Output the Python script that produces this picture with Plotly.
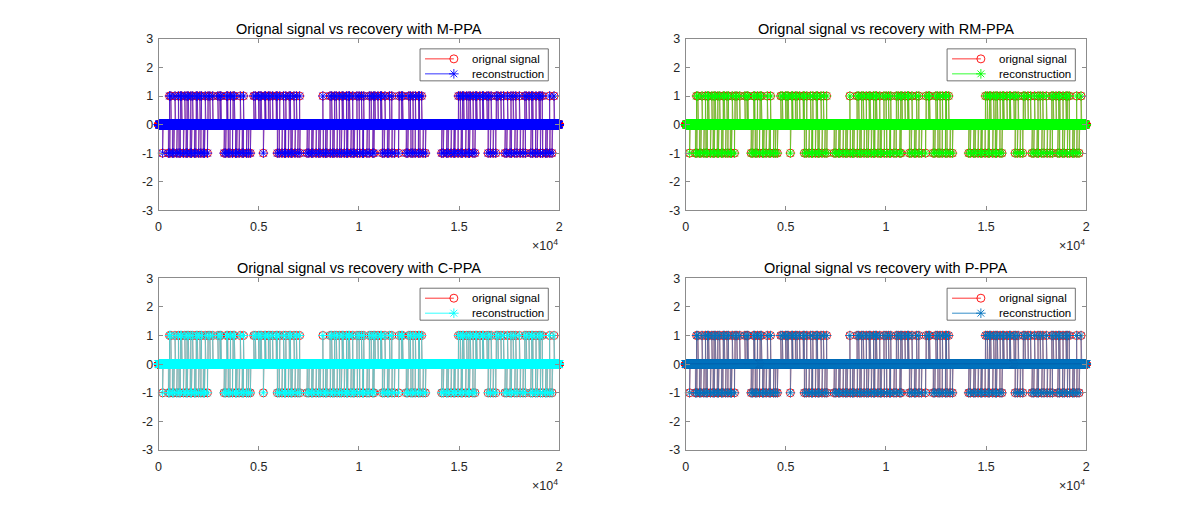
import numpy as np
import plotly.graph_objects as go

n_samples = 20000
W, H = 1204, 506

# sample indices of the +1 / -1 entries of the original sparse signal
pos_idx = [545, 610, 760, 820, 990, 1090, 1150, 1310, 1420, 1480, 1610, 1700, 1880, 1930,
           2060, 2140, 2290, 2330, 2470, 2560, 2700,
           2960, 3060, 3110, 3270, 3400, 3450, 3590, 3720, 3780, 4080, 4240,
           4750, 4830, 4990, 5060, 5120, 5300, 5340, 5480, 5560, 5690, 5870, 5920, 6050, 6160,
           6240, 6350, 6520, 6580, 6760, 6880, 7040,
           8200, 8560, 8640, 8790, 8870, 9020, 9160, 9210, 9380, 9470, 9530, 9690, 9760,
           9900, 10010, 10130, 10240,
           10520, 10610, 10740, 10800, 10950, 11080, 11130, 11300, 11420, 11530, 11640,
           12010, 12120, 12180, 12360, 12490, 12570, 12700, 12820, 12980, 13020, 13130,
           14970, 15060, 15170, 15230, 15380, 15490, 15560, 15700, 15830, 15880, 16040,
           16170, 16210, 16390, 16480, 16600, 16700, 16860, 16940, 17090, 17220, 17290, 17420,
           17590, 17700, 17830, 18010,
           18280, 18350, 18490, 18620, 18680, 18840, 18990, 19050, 19150,
           19520, 19740]
neg_idx = [200,
           490, 560, 690, 760, 910, 1020, 1080, 1240, 1370, 1430, 1580, 1640, 1790, 1860,
           2000, 2110, 2230, 2290, 2440,
           3270, 3350, 3480, 3560, 3690, 3840, 3900, 4020, 4170, 4230, 4390, 4480, 4580,
           5230,
           5930, 6020, 6160, 6290, 6340, 6480, 6610, 6660, 6810, 6950, 7050,
           7410, 7500, 7640, 7700, 7860, 7990, 8060, 8220, 8330, 8400, 8570, 8690, 8760,
           8910, 9040, 9120, 9270, 9390, 9440, 9600, 9710, 9760, 9920,
           10040, 10180, 10230, 10400, 10510, 10690, 10750,
           11170, 11260, 11420, 11490, 11650, 11770, 11980,
           12360, 12440, 12600, 12690, 12810, 12970, 13050, 13200, 13320,
           14130, 14210, 14380, 14450, 14600, 14740, 14790, 14950, 15100, 15160, 15330,
           15460, 15520, 15690, 15790,
           16450, 16560, 16700, 16830,
           17290, 17380, 17540, 17610, 17780, 17890, 18050, 18190, 18310,
           18580, 18670, 18820, 18900, 19060, 19170, 19320, 19390, 19530, 19640]

method_names = ["M-PPA", "RM-PPA", "C-PPA", "P-PPA"]
recon_colors = ["#0000ff", "#00ff00", "#00ffff", "#0072bd"]
orig_color = "#ff0000"

x_tick_vals = [0, 5000, 10000, 15000, 20000]
x_tick_text = ["0", "0.5", "1", "1.5", "2"]
y_tick_vals = [-3, -2, -1, 0, 1, 2, 3]
y_tick_text = ["-3", "-2", "-1", "0", "1", "2", "3"]

# build the signals
k = np.arange(1, n_samples + 1)
orig = np.zeros(n_samples)
orig[np.array(pos_idx) - 1] = 1
orig[np.array(neg_idx) - 1] = -1
recon = orig.copy()

# the screenshot comes out a bit squeezed vertically (about 0.973, offset 6px),
# so positions are given as wanted in the picture and mapped back to the page
SQ_A, SQ_B = 0.973, 6.1


def page_y(y_pic):
    return (y_pic - SQ_B) / SQ_A


# panel boxes in picture pixels (MATLAB subplot(2,2,i) layout)
panel_x = [[156.5, 559.5], [686.6, 1089.6], [156.5, 559.5], [686.6, 1089.6]]
panel_y = [[38, 209.5], [38, 209.5], [277.5, 449.5], [277.5, 449.5]]

font_family = "Liberation Sans, Arial, Helvetica, sans-serif"
circle_marker = dict(symbol="circle-open", size=8, color=orig_color, line=dict(width=0.9))

fig = go.Figure()
annotations = []
layout = {}

for i, (name, col) in enumerate(zip(method_names, recon_colors)):
    ax = "" if i == 0 else str(i + 1)
    star_marker = dict(symbol="asterisk-open", size=8, color=col, line=dict(width=0.9, color=col))
    fig.add_trace(go.Scatter(
        x=k, y=orig, mode="lines+markers", name="orignal signal",
        xaxis="x" + ax, yaxis="y" + ax, showlegend=False, cliponaxis=False,
        line=dict(color=orig_color, width=0.4), marker=circle_marker,
    ))
    fig.add_trace(go.Scatter(
        x=k, y=recon, mode="lines+markers", name="reconstruction",
        xaxis="x" + ax, yaxis="y" + ax, showlegend=False, cliponaxis=False,
        line=dict(color=col, width=0.4), marker=star_marker,
    ))

    px_l, px_r = panel_x[i]
    px_t, px_b = panel_y[i]
    x_dom = [px_l / W, px_r / W]
    y_dom = [1 - page_y(px_b) / H, 1 - page_y(px_t) / H]

    axis_common = dict(
        showgrid=False, zeroline=False, showline=True, linecolor="#8c8c8c", linewidth=1,
        mirror="ticks", ticks="inside", ticklen=4, tickcolor="#8c8c8c",
        tickfont=dict(size=12.5, color="#262626", family=font_family),
    )
    layout["xaxis" + ax] = dict(
        axis_common, domain=x_dom, range=[0, n_samples],
        tickvals=x_tick_vals, ticktext=x_tick_text, anchor="y" + ax,
        ticklabelstandoff=5,
    )
    layout["yaxis" + ax] = dict(
        axis_common, domain=y_dom, range=[-3, 3],
        tickvals=y_tick_vals, ticktext=y_tick_text, anchor="x" + ax,
        ticklabelstandoff=2,
    )

    annotations.append(dict(
        text="Orignal signal vs recovery with " + name, xref="x5", yref="y5",
        x=(px_l + px_r) / 2, y=px_t - 10, xanchor="center", yanchor="middle",
        showarrow=False, font=dict(size=14.5, color="#000000", family=font_family),
    ))
    annotations.append(dict(
        text="×10<sup>4</sup>", xref="x5", yref="y5",
        x=px_r + 1, y=px_b + 35, xanchor="right", yanchor="middle",
        showarrow=False, font=dict(size=12.5, color="#262626", family=font_family),
    ))

    # legend box, drawn like the MATLAB one
    lg_r = px_r - 11
    lg_l = lg_r - 129
    lg_t = px_t + 10
    lg_b = lg_t + 32
    fig.add_trace(go.Scatter(
        x=[lg_l, lg_r, lg_r, lg_l, lg_l], y=[lg_t, lg_t, lg_b, lg_b, lg_t],
        xaxis="x5", yaxis="y5", mode="lines", fill="toself", fillcolor="white",
        line=dict(color="#4d4d4d", width=0.8), showlegend=False, hoverinfo="skip",
    ))
    rows = [(lg_t + 10, orig_color, circle_marker, "orignal signal"),
            (lg_t + 25, col, star_marker, "reconstruction")]
    for ry, rc, rm, rtext in rows:
        fig.add_trace(go.Scatter(
            x=[lg_l + 5, lg_l + 34], y=[ry, ry], xaxis="x5", yaxis="y5",
            mode="lines", line=dict(color=rc, width=0.8), showlegend=False, hoverinfo="skip",
        ))
        fig.add_trace(go.Scatter(
            x=[lg_l + 34], y=[ry], xaxis="x5", yaxis="y5",
            mode="markers", marker=rm, showlegend=False, hoverinfo="skip",
        ))
        annotations.append(dict(
            text=rtext, xref="x5", yref="y5", x=lg_l + 50, y=ry,
            xanchor="left", yanchor="middle", showarrow=False,
            font=dict(size=11.5, color="#000000", family=font_family),
        ))

# full-figure axis in picture pixels for the legend boxes and labels
layout["xaxis5"] = dict(domain=[0, 1], range=[0, W], visible=False, fixedrange=True, anchor="y5")
layout["yaxis5"] = dict(domain=[0, 1], range=[SQ_B + SQ_A * H, SQ_B],
                        visible=False, fixedrange=True, anchor="x5")

fig.update_layout(
    width=W, height=H,
    margin=dict(l=0, r=0, t=0, b=0),
    paper_bgcolor="white", plot_bgcolor="rgba(0,0,0,0)",
    showlegend=False, annotations=annotations,
    **layout,
)

page_css = ("var s=document.createElement('style');"
            "s.textContent='html,body{margin:0;padding:0;overflow:hidden;height:506px;}';"
            "document.head.appendChild(s);")
fig.write_html("out.html", config={"displayModeBar": False}, post_script=page_css)
